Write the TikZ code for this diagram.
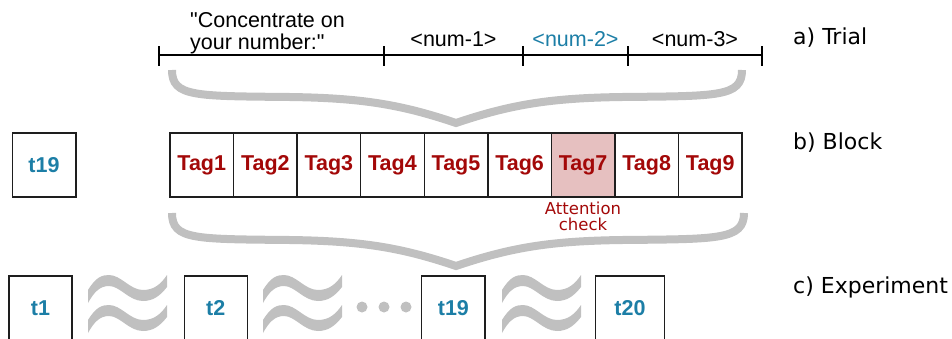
\documentclass[tikz,border=0pt]{standalone}
\usepackage{fontspec}
\setmainfont{Liberation Sans}[Ligatures=TeXOff]
\newfontfamily\dejavu{DejaVu Sans}
\definecolor{tblue}{RGB}{28,126,166}
\definecolor{tred}{RGB}{163,8,8}
\definecolor{tpink}{RGB}{230,192,192}
\definecolor{tgray}{RGB}{192,192,192}
\definecolor{tedge}{RGB}{30,30,30}
\begin{document}
\begin{tikzpicture}[x=1pt,y=-1pt,
  cell/.style={draw=tedge, line width=1.4pt, minimum width=63.6pt, minimum height=64pt, inner sep=0pt, font=\fontsize{21.5}{24}\selectfont\bfseries},
  tagcell/.style={cell, text=tred},
  trialbox/.style={cell, text=tblue},
  brace/.style={draw=tgray, line width=8pt, line cap=butt, line join=miter},
  wave/.style={fill=tgray, draw=none},
  dotmark/.style={fill=tgray, draw=none, circle, minimum size=11pt, inner sep=0pt},
  lvl/.style={anchor=base west, inner sep=0pt, font=\dejavu\fontsize{22}{26}\selectfont},
  seg/.style={anchor=base, inner sep=0pt, font=\fontsize{21.5}{24}\selectfont},
  tickline/.style={line width=2pt, draw=black},
  trialline/.style={line width=2.6pt, draw=black},
]
\useasboundingbox (0,0) rectangle (952,338);
\clip (0,0) rectangle (952,338);

% ---- a) Trial timeline
\foreach \n/\x in {0/159,1/384,2/523,3/628,4/762}{
  \coordinate (k\n) at (\x,55);
  \coordinate (kt\n) at (\x,46);
  \coordinate (kb\n) at (\x,66);
  \draw[tickline] (kt\n) -- (kb\n);
}
\draw[trialline] (k0) -- (k4);
\node[seg, anchor=base west] (q1) at (190,27) {"Concentrate on};
\node[seg, anchor=base west] (q2) at (190,49) {your number:"};
\node[seg] (n1) at (453.5,46) {<num-1>};
\node[seg, text=tblue] (n2) at (575.5,46) {<num-2>};
\node[seg] (n3) at (695,46) {<num-3>};

% ---- top brace
\draw[brace] (172,70) .. controls (172,97) and (195,96) .. (290,97)
  .. controls (360,98) and (400,104) .. (456,123)
  .. controls (512,104) and (552,98) .. (622,97)
  .. controls (718,96) and (742,97) .. (742,70);

% ---- b) Block
\node[trialbox] (b19) at (44,165) {t19};
\foreach \i in {1,...,6,8,9}{
  \node[tagcell] (tag\i) at ({170+63.56*(\i-0.5)},165) {Tag\i};
}
\node[tagcell, fill=tpink] (tag7) at ({170+63.56*6.5},165) {Tag7};
\node[anchor=north, inner sep=0pt, align=center, text=tred,
  font=\dejavu\fontsize{16.5}{15.5}\selectfont] (att) at (583,202) {Attention\\check};

% ---- bottom brace
\draw[brace] (172,213) .. controls (172,240) and (195,239) .. (290,240)
  .. controls (360,241) and (400,247) .. (456,266)
  .. controls (512,247) and (552,241) .. (622,240)
  .. controls (718,239) and (744,240) .. (744,213);

% ---- c) Experiment
\node[trialbox, minimum width=63pt] (e1) at (40.5,308) {t1};
\node[trialbox, minimum width=63pt] (e2) at (215.8,308) {t2};
\node[trialbox, minimum width=63.3pt] (e19) at (453.4,308) {t19};
\node[trialbox, minimum width=68.6pt] (e20) at (630,308) {t20};

\foreach \x in {88,263,502}{
  \foreach \dy in {0,30}{
    \fill[wave] (\x,290+\dy) .. controls (\x+8,277+\dy) and (\x+14,275+\dy) .. (\x+21,275+\dy)
      .. controls (\x+33,275+\dy) and (\x+42,290+\dy) .. (\x+55,290+\dy)
      .. controls (\x+66,290+\dy) and (\x+73,284+\dy) .. (\x+79,275+\dy)
      -- (\x+79,287+\dy)
      .. controls (\x+72,296+\dy) and (\x+65,301+\dy) .. (\x+55,301+\dy)
      .. controls (\x+41,301+\dy) and (\x+32,286+\dy) .. (\x+21,286+\dy)
      .. controls (\x+12,286+\dy) and (\x+6,292+\dy) .. (\x,303+\dy) -- cycle;
  }
}
\node[dotmark] (d1) at (362,307) {};
\node[dotmark] (d2) at (384,307) {};
\node[dotmark] (d3) at (406,307) {};

% ---- level labels
\node[lvl] (la) at (793,44) {a) Trial};
\node[lvl] (lb) at (793,149) {b) Block};
\node[lvl] (lc) at (793,293) {c) Experiment};
\end{tikzpicture}
\end{document}
